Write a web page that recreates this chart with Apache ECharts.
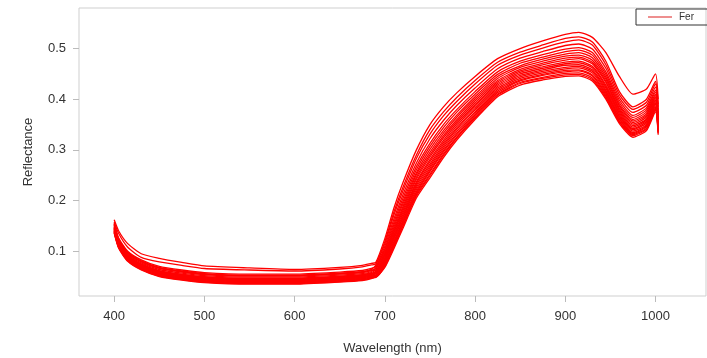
<!DOCTYPE html>
<html>
<head>
<meta charset="utf-8">
<script src="https://cdn.jsdelivr.net/npm/echarts@6/dist/echarts.min.js"></script>
<style>
	html, body { margin: 0; padding: 0; background: #fff; }
	#main { width: 707px; height: 358px; }
</style>
</head>
<body>
<div id="main"></div>
<script>
// wavelengths (nm)
var wavelength = [400, 405, 415, 430, 450, 475, 500, 550, 600, 650, 675, 685,
	690, 700, 710, 720, 735, 750, 765, 780, 800, 825, 850, 875, 900, 915, 930, 945, 960, 975, 990, 1000, 1003];

// reflectance of each sample
var s01 = [0.162, 0.140, 0.115, 0.095, 0.086, 0.078, 0.071, 0.067, 0.064, 0.068, 0.072, 0.076,
	0.078, 0.125, 0.185, 0.235, 0.300, 0.350, 0.385, 0.413, 0.445, 0.480, 0.500, 0.515, 0.528, 0.532, 0.522, 0.492, 0.445, 0.410, 0.420, 0.450, 0.400];
var s02 = [0.158, 0.135, 0.108, 0.088, 0.079, 0.072, 0.066, 0.063, 0.061, 0.065, 0.069, 0.073,
	0.075, 0.119, 0.177, 0.226, 0.290, 0.340, 0.375, 0.404, 0.437, 0.473, 0.493, 0.507, 0.520, 0.523, 0.513, 0.475, 0.415, 0.385, 0.400, 0.435, 0.390];
var s03 = [0.154, 0.124, 0.098, 0.081, 0.068, 0.061, 0.056, 0.053, 0.053, 0.057, 0.060, 0.064,
	0.073, 0.115, 0.171, 0.219, 0.283, 0.331, 0.367, 0.396, 0.430, 0.467, 0.487, 0.501, 0.513, 0.517, 0.507, 0.468, 0.409, 0.380, 0.394, 0.430, 0.385];
var s04 = [0.156, 0.126, 0.100, 0.083, 0.070, 0.063, 0.058, 0.055, 0.055, 0.059, 0.062, 0.066,
	0.070, 0.110, 0.163, 0.211, 0.274, 0.322, 0.358, 0.388, 0.422, 0.460, 0.481, 0.494, 0.506, 0.509, 0.499, 0.461, 0.403, 0.374, 0.388, 0.424, 0.379];
var s05 = [0.150, 0.120, 0.094, 0.077, 0.064, 0.057, 0.052, 0.049, 0.049, 0.053, 0.056, 0.060,
	0.068, 0.105, 0.157, 0.204, 0.267, 0.313, 0.350, 0.380, 0.415, 0.454, 0.475, 0.488, 0.499, 0.502, 0.492, 0.454, 0.398, 0.368, 0.383, 0.418, 0.373];
var s06 = [0.152, 0.122, 0.096, 0.079, 0.066, 0.059, 0.054, 0.051, 0.051, 0.055, 0.058, 0.062,
	0.066, 0.102, 0.152, 0.198, 0.261, 0.307, 0.344, 0.375, 0.410, 0.449, 0.471, 0.483, 0.494, 0.497, 0.487, 0.449, 0.393, 0.364, 0.379, 0.414, 0.369];
var s07 = [0.148, 0.118, 0.092, 0.075, 0.062, 0.055, 0.050, 0.047, 0.047, 0.051, 0.054, 0.058,
	0.064, 0.098, 0.147, 0.193, 0.255, 0.301, 0.338, 0.369, 0.405, 0.445, 0.466, 0.479, 0.489, 0.492, 0.482, 0.444, 0.389, 0.360, 0.375, 0.410, 0.365];
var s08 = [0.153, 0.123, 0.097, 0.080, 0.067, 0.060, 0.055, 0.052, 0.052, 0.056, 0.059, 0.063,
	0.062, 0.095, 0.143, 0.188, 0.251, 0.295, 0.333, 0.365, 0.401, 0.441, 0.463, 0.475, 0.485, 0.487, 0.477, 0.440, 0.386, 0.357, 0.371, 0.407, 0.362];
var s09 = [0.144, 0.114, 0.088, 0.071, 0.058, 0.051, 0.046, 0.043, 0.043, 0.047, 0.050, 0.054,
	0.061, 0.093, 0.139, 0.184, 0.246, 0.290, 0.328, 0.360, 0.397, 0.437, 0.459, 0.471, 0.481, 0.483, 0.473, 0.436, 0.382, 0.354, 0.368, 0.404, 0.359];
var s10 = [0.146, 0.116, 0.090, 0.073, 0.060, 0.053, 0.048, 0.045, 0.045, 0.049, 0.052, 0.056,
	0.060, 0.090, 0.136, 0.180, 0.242, 0.286, 0.324, 0.356, 0.393, 0.434, 0.456, 0.468, 0.477, 0.480, 0.470, 0.433, 0.379, 0.351, 0.365, 0.401, 0.356];
var s11 = [0.142, 0.112, 0.086, 0.069, 0.056, 0.049, 0.044, 0.041, 0.041, 0.045, 0.048, 0.052,
	0.058, 0.087, 0.132, 0.176, 0.237, 0.281, 0.319, 0.352, 0.389, 0.431, 0.453, 0.464, 0.473, 0.475, 0.465, 0.428, 0.376, 0.348, 0.361, 0.398, 0.353];
var s12 = [0.145, 0.115, 0.089, 0.072, 0.059, 0.052, 0.047, 0.044, 0.044, 0.048, 0.051, 0.055,
	0.057, 0.085, 0.129, 0.172, 0.234, 0.277, 0.315, 0.348, 0.386, 0.428, 0.450, 0.461, 0.470, 0.472, 0.462, 0.425, 0.373, 0.345, 0.359, 0.395, 0.350];
var s13 = [0.140, 0.110, 0.084, 0.067, 0.054, 0.047, 0.042, 0.039, 0.039, 0.043, 0.046, 0.050,
	0.056, 0.083, 0.126, 0.168, 0.230, 0.272, 0.311, 0.344, 0.382, 0.425, 0.447, 0.458, 0.467, 0.468, 0.458, 0.422, 0.370, 0.342, 0.356, 0.392, 0.347];
var s14 = [0.147, 0.117, 0.091, 0.074, 0.061, 0.054, 0.049, 0.046, 0.046, 0.050, 0.053, 0.057,
	0.055, 0.081, 0.123, 0.165, 0.226, 0.268, 0.307, 0.341, 0.379, 0.422, 0.444, 0.455, 0.463, 0.465, 0.455, 0.418, 0.367, 0.340, 0.353, 0.390, 0.345];
var s15 = [0.138, 0.108, 0.082, 0.065, 0.052, 0.045, 0.040, 0.037, 0.037, 0.041, 0.044, 0.048,
	0.053, 0.078, 0.119, 0.161, 0.222, 0.264, 0.303, 0.337, 0.375, 0.419, 0.441, 0.452, 0.460, 0.462, 0.452, 0.415, 0.365, 0.337, 0.350, 0.387, 0.342];
var s16 = [0.143, 0.113, 0.087, 0.070, 0.057, 0.050, 0.045, 0.042, 0.042, 0.046, 0.049, 0.053,
	0.052, 0.076, 0.116, 0.158, 0.218, 0.260, 0.299, 0.333, 0.372, 0.416, 0.438, 0.449, 0.457, 0.458, 0.448, 0.412, 0.362, 0.334, 0.348, 0.384, 0.339];
var s17 = [0.136, 0.106, 0.080, 0.063, 0.050, 0.043, 0.038, 0.035, 0.035, 0.039, 0.042, 0.046,
	0.051, 0.074, 0.114, 0.155, 0.215, 0.257, 0.296, 0.330, 0.369, 0.413, 0.436, 0.447, 0.454, 0.456, 0.446, 0.409, 0.360, 0.332, 0.346, 0.382, 0.337];
var s18 = [0.141, 0.111, 0.085, 0.068, 0.055, 0.048, 0.043, 0.040, 0.040, 0.044, 0.047, 0.051,
	0.050, 0.072, 0.111, 0.151, 0.212, 0.252, 0.292, 0.326, 0.366, 0.410, 0.433, 0.443, 0.451, 0.452, 0.442, 0.406, 0.357, 0.330, 0.343, 0.380, 0.335];
var s19 = [0.139, 0.109, 0.083, 0.066, 0.053, 0.046, 0.041, 0.038, 0.038, 0.042, 0.045, 0.049,
	0.049, 0.070, 0.108, 0.149, 0.209, 0.249, 0.289, 0.324, 0.363, 0.408, 0.431, 0.441, 0.448, 0.449, 0.439, 0.403, 0.355, 0.328, 0.341, 0.378, 0.333];
var s20 = [0.137, 0.107, 0.081, 0.064, 0.051, 0.044, 0.039, 0.036, 0.036, 0.040, 0.043, 0.047,
	0.048, 0.068, 0.105, 0.145, 0.205, 0.245, 0.285, 0.320, 0.360, 0.405, 0.428, 0.438, 0.445, 0.446, 0.436, 0.400, 0.352, 0.325, 0.338, 0.375, 0.330];

var samples = [s01, s02, s03, s04, s05, s06, s07, s08, s09, s10,
	s11, s12, s13, s14, s15, s16, s17, s18, s19, s20];

// axis ticks
var xTicks = [400, 500, 600, 700, 800, 900, 1000];
var yTicks = [0.1, 0.2, 0.3, 0.4, 0.5];

var myChart = echarts.init(document.getElementById('main'), null, { renderer: 'canvas' });

var series = samples.map(function(s) {
	return {
		name: 'Fer',
		type: 'line',
		data: wavelength.map(function(w, i) {
			return [w, s[i]];
		}),
		showSymbol: false,
		smooth: 0.2,
		lineStyle: { color: '#ff0000', width: 1.3 },
		itemStyle: { color: '#ff0000' },
		silent: true
	};
});

var labelFont = { fontFamily: 'Liberation Sans, Arial, sans-serif', fontSize: 13, color: '#333' };

var option = {
	animation: false,
	backgroundColor: '#fff',
	grid: {
		left: 79, right: 1, top: 8, bottom: 62,
		containLabel: false,
		outerBoundsMode: 'none',
		show: true, borderColor: '#cfcfcf', borderWidth: 1
	},
	legend: {
		data: [{ name: 'Fer', icon: 'rect' }],
		left: 636, top: 9,
		itemWidth: 24, itemHeight: 1.5, itemGap: 0,
		padding: [3, 24, 3, 12],
		borderColor: '#333', borderWidth: 1,
		itemStyle: { color: '#e86a6a' },
		textStyle: { fontFamily: 'Liberation Sans, Arial, sans-serif', fontSize: 10, color: '#333', padding: [0, 0, 0, 2] },
		selectedMode: false
	},
	xAxis: {
		type: 'value',
		min: 361, max: 1056,
		name: 'Wavelength (nm)',
		nameLocation: 'middle',
		nameGap: 46,
		nameTextStyle: labelFont,
		axisLine: { show: false },
		axisTick: { show: true, length: 6, lineStyle: { color: '#bbb' }, customValues: xTicks },
		axisLabel: Object.assign({ margin: 14, customValues: xTicks, formatter: function(v) { return String(v); } }, labelFont),
		splitLine: { show: false }
	},
	yAxis: {
		type: 'value',
		min: 0.0117, max: 0.58,
		name: 'Reflectance',
		nameLocation: 'middle',
		nameGap: 44,
		nameTextStyle: labelFont,
		axisLine: { show: false },
		axisTick: { show: true, length: 6, lineStyle: { color: '#bbb' }, customValues: yTicks },
		axisLabel: Object.assign({ margin: 13, customValues: yTicks, formatter: function(v) { return v.toFixed(1); } }, labelFont),
		splitLine: { show: false }
	},
	series: series
};

myChart.setOption(option);
</script>
</body>
</html>
